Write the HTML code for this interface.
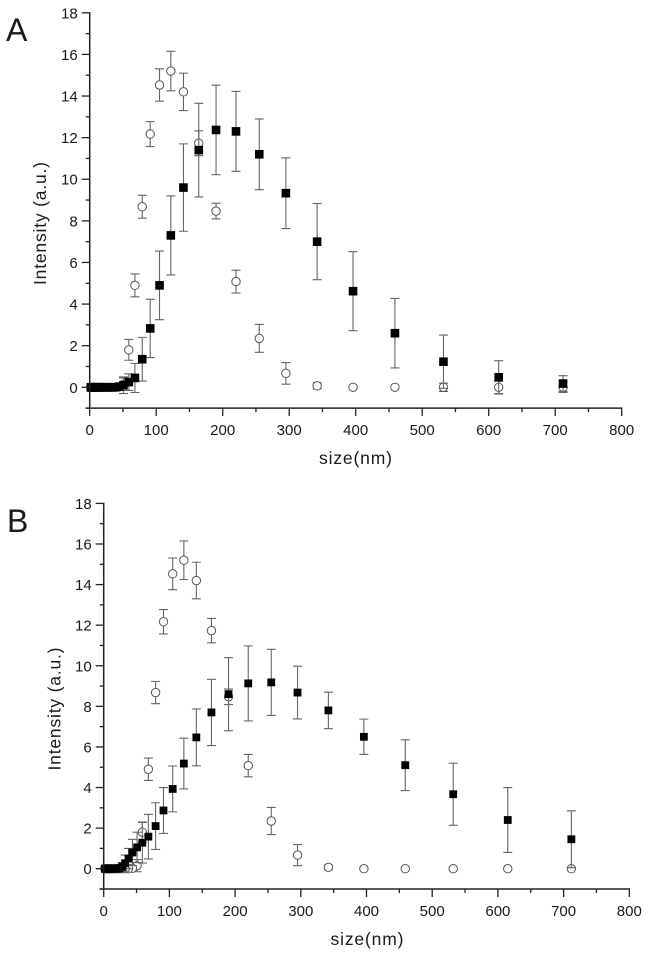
<!DOCTYPE html>
<html lang="en">
<head>
<meta charset="utf-8">
<title>Intensity vs size</title>
<style>
html,body{margin:0;padding:0;background:#fff;width:648px;height:960px;overflow:hidden}
svg{display:block}
text{font-family:"Liberation Sans",sans-serif;fill:#1a1a1a}
</style>
</head>
<body>
<svg id="figure" width="648" height="960" viewBox="0 0 648 960" xmlns="http://www.w3.org/2000/svg"></svg>
<script>
const sizes = [711.8,615,532,459,396,342,295,255,220,190,164,141,122,105,91,79,68,58.8,50.8,43.8,37.8,32.6,28.2,24.3,21,18.1,15.6,13.5,11.6,10,8.7,7.5,6.5,5.6,4.8,4.2,3.6,3.1,2.7,2.3,2,1.7];
const openValues = [0,0,0,0,0,0.07,0.67,2.35,5.08,8.47,11.73,14.2,15.2,14.53,12.17,8.68,4.9,1.8,0.15,0.02,0,0,0,0,0,0,0,0,0,0,0,0,0,0,0,0,0,0,0,0,0,0];
const openErrorsA = [0.25,0.3,0.2,0,0,0.15,0.52,0.67,0.55,0.38,0.6,0.9,0.95,0.78,0.6,0.55,0.55,0.5,0.3,0.05,0,0,0,0,0,0,0,0,0,0,0,0,0,0,0,0,0,0,0,0,0,0];
const openErrorsB = [0,0,0,0,0,0.12,0.52,0.67,0.55,0.38,0.6,0.9,0.95,0.78,0.6,0.55,0.55,0.5,0.3,0.05,0,0,0,0,0,0,0,0,0,0,0,0,0,0,0,0,0,0,0,0,0,0];
const filledValuesA = [0.18,0.48,1.23,2.6,4.62,7.0,9.33,11.2,12.3,12.37,11.4,9.6,7.3,4.9,2.83,1.35,0.45,0.25,0.1,0.03,0,0,0,0,0,0,0,0,0,0,0,0,0,0,0,0,0,0,0,0,0,0];
const filledErrorsA = [0.38,0.8,1.28,1.67,1.9,1.83,1.7,1.7,1.92,2.15,2.25,2.1,1.9,1.65,1.4,1.05,0.7,0.4,0.4,0.1,0,0,0,0,0,0,0,0,0,0,0,0,0,0,0,0,0,0,0,0,0,0];
const filledValuesB = [1.45,2.4,3.67,5.1,6.5,7.8,8.68,9.18,9.13,8.6,7.7,6.47,5.18,3.93,2.87,2.1,1.58,1.28,1.05,0.8,0.5,0.27,0.1,0.03,0,0,0,0,0,0,0,0,0,0,0,0,0,0,0,0,0,0];
const filledErrorsB = [1.4,1.6,1.53,1.25,0.87,0.9,1.3,1.63,1.85,1.8,1.63,1.4,1.25,1.13,1.13,1.15,1.1,1,0.75,0.65,0.5,0.4,0.2,0.05,0,0,0,0,0,0,0,0,0,0,0,0,0,0,0,0,0,0];
const xTickLabels = [0,100,200,300,400,500,600,700,800];
const xMinorTicks = [50,150,250,350,450,550,650,750];
const yTickLabels = [0,2,4,6,8,10,12,14,16,18];
const yMinorTicks = [-1,1,3,5,7,9,11,13,15,17];

const NS = 'http://www.w3.org/2000/svg';
const root = document.getElementById('figure');

function make(parent, tag, attrs, text) {
  const el = document.createElementNS(NS, tag);
  for (const k in attrs) el.setAttribute(k, attrs[k]);
  if (text !== undefined) el.textContent = text;
  parent.appendChild(el);
  return el;
}

function drawPanel(cfg) {
  const xScale = v => cfg.x0 + (cfg.x800 - cfg.x0) * v / 800;
  const yScale = v => cfg.y0 + (cfg.y18 - cfg.y0) * v / 18;
  const AXIS = '#222';
  const ERR = '#666';

  const panel = make(root, 'g', {});
  
  

  const letter = make(panel, 'text', {x: cfg.letterX, y: cfg.letterY, 'font-size': 32}, cfg.letter);
  
  

  const openLayer = make(panel, 'g', {});
  
  
  const filledLayer = make(panel, 'g', {});
  
  

  function errorBar(layer, x, v, e) {
    if (e <= 0) return;
    const px = xScale(x), hi = yScale(v + e), lo = yScale(v - e);
    const bar = make(layer, 'path', {
      d: 'M' + px + ' ' + hi + 'V' + lo + 'M' + (px - 4.5) + ' ' + hi + 'H' + (px + 4.5) + 'M' + (px - 4.5) + ' ' + lo + 'H' + (px + 4.5),
      stroke: ERR, 'stroke-width': 1.1, fill: 'none'
    });
    
    
  }

  sizes.forEach((x, i) => errorBar(openLayer, x, openValues[i], cfg.openErrors[i]));
  sizes.forEach((x, i) => {
    const c = make(openLayer, 'circle', {cx: xScale(x), cy: yScale(openValues[i]), r: 4.2, fill: '#fff', stroke: '#555', 'stroke-width': 1});
    
    
  });
  sizes.forEach((x, i) => errorBar(filledLayer, x, cfg.values[i], cfg.errors[i]));
  sizes.forEach((x, i) => {
    const s = make(filledLayer, 'rect', {x: xScale(x) - cfg.sq / 2, y: yScale(cfg.values[i]) - cfg.sq / 2, width: cfg.sq, height: cfg.sq, fill: '#000'});
    
    
  });

  const yAxis = make(panel, 'g', {});
  
  
  make(yAxis, 'line', {x1: xScale(0), x2: xScale(0), y1: yScale(18) - 0.7, y2: yScale(-1) + 0.7, stroke: AXIS, 'stroke-width': 1.5});
  yTickLabels.forEach(v => {
    make(yAxis, 'line', {x1: xScale(0) - 8, x2: xScale(0), y1: yScale(v), y2: yScale(v), stroke: AXIS, 'stroke-width': 1.3});
    const t = make(yAxis, 'text', {x: xScale(0) - 12, y: yScale(v) + 5.5, 'font-size': 15, 'text-anchor': 'end'}, v);
    
    
  });
  yMinorTicks.forEach(v => {
    make(yAxis, 'line', {x1: xScale(0) - 4, x2: xScale(0), y1: yScale(v), y2: yScale(v), stroke: AXIS, 'stroke-width': 1.3});
  });

  const xAxis = make(panel, 'g', {});
  
  
  const yb = yScale(-1);
  make(xAxis, 'line', {x1: xScale(0) - 4, x2: xScale(800) + 0.7, y1: yb, y2: yb, stroke: AXIS, 'stroke-width': 1.5});
  xTickLabels.forEach(v => {
    make(xAxis, 'line', {x1: xScale(v), x2: xScale(v), y1: yb, y2: yb + 8, stroke: AXIS, 'stroke-width': 1.3});
    const t = make(xAxis, 'text', {x: xScale(v), y: yb + 27, 'font-size': 15, 'text-anchor': 'middle'}, v);
    
    
  });
  xMinorTicks.forEach(v => {
    make(xAxis, 'line', {x1: xScale(v), x2: xScale(v), y1: yb, y2: yb + 4, stroke: AXIS, 'stroke-width': 1.3});
  });

  const xTitle = make(panel, 'text', {x: cfg.xTitleX, y: yb + 56, 'font-size': 17.5, 'text-anchor': 'middle', textLength: 73, lengthAdjust: 'spacing'}, 'size(nm)');
  
  
  const yTitle = make(panel, 'text', {
    x: 0, y: 0, 'font-size': 17.5, 'text-anchor': 'middle', textLength: 123, lengthAdjust: 'spacing',
    transform: 'translate(' + cfg.yTitleX + ' ' + cfg.yTitleY + ') rotate(-90)'
  }, 'Intensity (a.u.)');
  
  
}

drawPanel({name:'panel-a', letter:'A', letterX:6, letterY:41, x0:89.7, x800:621.7, y0:387.3, y18:12.8, sq:8.6,
  values:filledValuesA, errors:filledErrorsA, openErrors:openErrorsA, xTitleX:355.5, yTitleX:46, yTitleY:223.5});
drawPanel({name:'panel-b', letter:'B', letterX:7, letterY:532, x0:103.7, x800:629.3, y0:868.7, y18:503.4, sq:7.8,
  values:filledValuesB, errors:filledErrorsB, openErrors:openErrorsB, xTitleX:367, yTitleX:60.5, yTitleY:709});
</script>
</body>
</html>
